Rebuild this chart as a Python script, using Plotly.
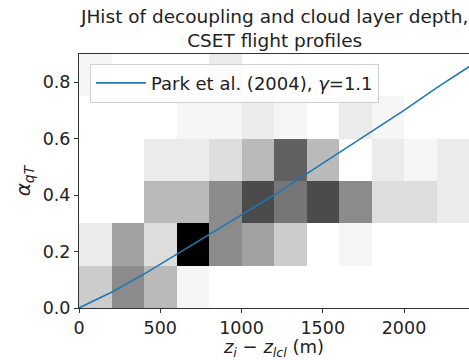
import plotly.graph_objects as go

# Bin edges
x_edges = [0, 200, 400, 600, 800, 1000, 1200, 1400, 1600, 1800, 2000, 2200, 2400]
y_edges = [0.0, 0.15, 0.30, 0.45, 0.60, 0.75, 0.90]

# Counts per bin (rows = y bins from bottom, columns = x bins)
counts_row0 = [4, 7, 5, 1, 0, 0, 0, 0, 0, 0, 0, 0]
counts_row1 = [2, 6, 3, 13, 7, 6, 4, 0, 1, 0, 0, 0]
counts_row2 = [0, 0, 5, 5, 7, 10, 8, 10, 7, 3, 3, 2]
counts_row3 = [0, 0, 2, 2, 3, 5, 9, 5, 0, 2, 1, 2]
counts_row4 = [0, 0, 0, 1, 1, 2, 1, 0, 2, 1, 0, 0]
counts_row5 = [1, 0, 0, 0, 2, 0, 0, 0, 0, 0, 0, 0]

# Park et al. (2004) curve
park_x = [0, 200, 400, 600, 800, 1000, 1200, 1400, 1600, 1800, 2000, 2200, 2400]
park_y = [0.0, 0.056, 0.12, 0.19, 0.26, 0.33, 0.40, 0.475, 0.55, 0.625, 0.70, 0.78, 0.855]

x_ticks = [0, 500, 1000, 1500, 2000]
y_ticks = [0.0, 0.2, 0.4, 0.6, 0.8]

greys = [[0, '#ffffff'], [0.125, '#f0f0f0'], [0.25, '#d9d9d9'], [0.375, '#bdbdbd'],
         [0.5, '#969696'], [0.625, '#737373'], [0.75, '#525252'], [0.875, '#252525'],
         [1, '#000000']]

FONT = "DejaVu Sans"
TXT = '#222222'
fig = go.Figure()
fig.add_trace(go.Heatmap(
    x=x_edges, y=y_edges,
    z=[counts_row0, counts_row1, counts_row2, counts_row3, counts_row4, counts_row5],
    colorscale=greys, zmin=0, zmax=13, showscale=False, hoverinfo='skip'))
fig.add_trace(go.Scatter(
    x=park_x, y=park_y, mode='lines', line=dict(color='#1f77b4', width=1.6),
    name='Park et al. (2004), <i>γ</i>=1.1'))

axis_common = dict(showline=True, linecolor='#333333', linewidth=1, mirror=True,
                   ticks='outside', ticklen=4, tickcolor='#333333', showgrid=False,
                   zeroline=False, automargin=False,
                   tickfont=dict(size=17.5, color=TXT, family=FONT))

fig.update_layout(
    width=469, height=360,
    margin=dict(l=79, r=0, t=54, b=52),
    paper_bgcolor='white', plot_bgcolor='white',
    font=dict(family=FONT, color=TXT),
    xaxis=dict(range=[0, 2400], tickvals=x_ticks,
               title=dict(text='<i>z<sub>i</sub></i> − <i>z<sub>lcl</sub></i> (m)',
                          font=dict(size=18, family=FONT, color=TXT), standoff=4),
               **axis_common),
    yaxis=dict(range=[0, 0.9], tickvals=y_ticks, tickformat='.1f',
               title=dict(text='<i>α<sub>qT</sub></i>', font=dict(size=20, family=FONT, color=TXT),
                          standoff=6),
               **axis_common),
    showlegend=True,
    legend=dict(x=0.028, y=0.962, xanchor='left', yanchor='top', itemwidth=50,
                bgcolor='rgba(255,255,255,0.8)', bordercolor='#d0d0d0', borderwidth=1,
                font=dict(size=18, family=FONT, color=TXT)),
    annotations=[dict(text='JHist of decoupling and cloud layer depth,<br>CSET flight profiles',
                      xref='paper', yref='paper', x=0.5, y=1, xanchor='center', yanchor='bottom',
                      yshift=1, showarrow=False,
                      font=dict(size=18.5, family=FONT, color=TXT))],
)

fig.write_html("out.html", config={'displayModeBar': False},
               post_script="document.body.style.margin='0';")
